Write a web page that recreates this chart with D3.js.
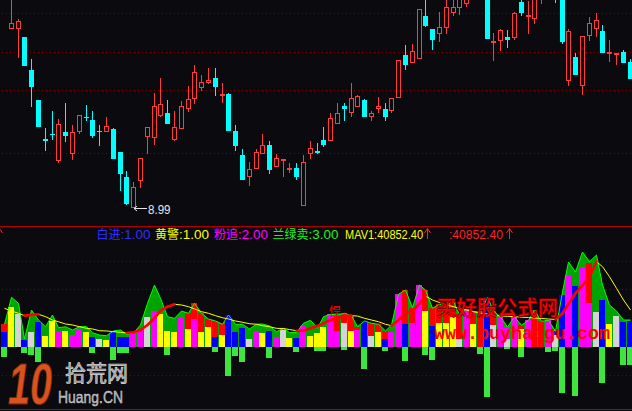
<!DOCTYPE html>
<html><head><meta charset="utf-8">
<script src="https://cdn.jsdelivr.net/npm/d3@7/dist/d3.min.js"></script>
<style>html,body{margin:0;padding:0;background:#0b0a0e;overflow:hidden}svg{display:block}</style>
</head><body>
<svg id="chart" width="632" height="411"></svg>
<script>
// ---------------- DATA ----------------
// K-line (price) series
const opens = [13.60,12.58,12.58,12.41,11.75,11.15,10.37,10.48,9.94,10.51,
10.06,10.51,10.82,10.75,10.54,10.52,10.57,10.11,9.61,9.00,
9.54,10.42,10.40,10.84,10.89,10.36,10.56,10.96,11.18,11.38,
11.50,11.59,11.22,11.27,10.53,10.05,9.62,9.78,10.06,10.25,
9.82,9.94,9.78,9.79,9.04,10.06,10.13,10.36,10.34,10.68,
11.03,10.90,11.02,11.15,10.82,10.96,10.97,10.94,11.20,12.05,
11.88,11.98,12.83,12.57,12.46,12.60,12.88,13.00,13.08,13.65,
13.55,13.45,12.32,12.32,12.41,12.40,13.11,12.82,12.78,13.35,
13.75,13.45,13.25,11.54,12.01,11.44,12.44,12.58,12.53,12.08,
12.06,12.11,11.91];
const highs = [13.70,13.25,12.77,12.41,11.98,11.15,10.59,10.93,10.77,11.09,
10.65,10.86,11.05,10.93,10.65,10.81,10.60,10.11,9.73,9.51,
9.99,10.61,11.29,11.59,11.15,10.93,11.13,11.43,11.85,11.65,
11.79,11.79,11.49,11.29,10.65,10.17,9.92,10.17,10.47,10.33,
10.07,9.98,9.89,9.89,10.05,10.33,10.29,10.61,10.89,11.09,
11.09,11.49,11.25,11.17,10.93,11.21,11.09,11.19,11.95,12.25,
12.27,12.97,13.21,12.57,12.91,13.21,13.19,13.35,13.47,13.75,
13.65,13.55,12.49,12.57,12.55,12.91,13.21,13.13,13.39,13.85,
13.85,13.55,13.31,12.57,12.09,12.44,12.81,12.89,12.65,12.35,
12.09,12.15,11.97];
const lows = [13.30,12.58,12.00,11.84,11.02,10.62,10.14,10.35,9.88,10.30,
9.95,10.48,10.72,10.40,10.22,10.52,9.96,9.34,9.06,8.99,
9.38,10.08,10.26,10.82,10.68,10.32,10.56,10.92,11.06,11.34,
11.48,11.24,11.10,10.54,10.14,9.56,9.44,9.78,10.06,9.68,
9.82,9.62,9.70,9.56,9.04,9.96,10.06,10.21,10.34,10.68,
10.72,10.82,11.02,10.80,10.74,10.90,10.74,10.90,11.20,11.75,
11.88,11.98,12.62,12.15,12.30,12.48,12.84,12.86,13.02,13.21,
13.14,12.37,11.93,12.13,12.20,12.36,12.84,12.46,12.68,13.08,
13.35,13.10,12.28,11.44,11.66,11.26,12.34,12.42,12.10,11.91,
11.85,11.88,11.58];
const closes = [13.35,12.69,12.72,11.84,11.40,10.62,10.34,10.45,10.68,10.44,
10.52,10.85,10.79,10.44,10.51,10.64,9.96,9.68,9.08,9.41,
9.99,10.61,11.03,11.07,10.68,10.61,11.03,11.17,11.71,11.51,
11.56,11.40,11.28,10.54,10.22,9.56,9.78,10.12,10.26,9.76,
10.00,9.98,9.79,9.62,9.92,10.19,10.10,10.25,10.79,10.89,
10.98,11.19,11.23,10.81,10.89,11.03,10.82,11.19,11.95,11.85,
12.13,12.97,12.63,12.35,12.61,13.01,13.01,13.25,13.39,13.35,
13.27,12.37,12.34,12.55,12.36,12.88,12.90,12.86,13.31,13.75,
13.45,13.25,12.30,12.54,11.66,12.44,12.70,12.74,12.10,12.11,
12.09,11.88,11.58];

// Indicator panel (values in thousands)
const lowVal = [16.2,43.8,36.1,7.7,16.9,27.6,12.5,29.0,17.7,17.7,
13.2,19.5,16.9,11.4,8.8,7.7,16.9,11.4,11.4,15.1,
18.8,33.5,40.1,36.4,17.7,16.9,32.8,19.9,30.9,16.2,
22.4,11.4,13.2,35.3,16.2,20.6,8.8,17.7,15.1,17.7,
11.4,18.8,10.3,10.3,23.2,12.5,15.1,22.4,36.1,17.7,
26.2,17.7,18.8,28.7,12.5,16.2,8.8,16.2,58.2,25.1,
26.8,68.4,39.7,23.5,26.5,26.5,33.1,8.5,42.3,25.1,
38.6,54.9,24.6,33.1,9.2,33.1,20.2,29.5,40.8,28.4,
29.5,12.9,57.4,80.0,67.3,87.8,48.2,39.0,51.9,25.4,
34.2,27.3,28.7];
const lowColor = ['B','Y','W','B','W','B','Y','Y','M','Y',
'M','M','Y','B','W','Y','B','B','B','M',
'M','W','M','Y','Y','Y','M','Y','M','Y',
'Y','B','Y','B','B','B','W','M','Y','B',
'M','W','Y','B','M','Y','Y','Y','M','M',
'W','Y','M','B','W','Y','B','M','M','B',
'M','M','Y','B','Y','Y','Y','W','M','Y',
'R','B','W','M','W','M','Y','M','R','R',
'M','W','B','M','B','M','M','W','B','Y',
'W','B','B'];
const upVal = [25.1,0,0,0,0,0,0,0,0,0,
0,0,0,0,0,0,0,0,0,0,
0,0,0,0,0,0,0,37.2,48.2,37.2,
30.9,28.7,25.1,0,0,0,0,0,0,0,
0,0,0,0,0,0,0,0,0,35.3,
37.2,34.6,22.4,0,26.2,25.1,17.7,0,0,62.9,
43.4,0,62.9,42.7,47.1,46.4,49.7,36.1,0,39.0,
0,0,40.1,0,22.1,0,24.0,0,0,0,
0,17.3,0,0,0,0,92.4,0,0,0,
0,0,0];
const upColor = ['R','-','-','-','-','-','-','-','-','-',
'-','-','-','-','-','-','-','-','-','-',
'-','-','-','-','-','-','-','R','R','R',
'R','R','R','-','-','-','-','-','-','-',
'-','-','-','-','-','-','-','-','-','R',
'R','R','R','-','R','R','R','-','-','R',
'R','-','R','R','R','R','R','R','-','R',
'-','-','R','-','M','-','R','-','-','-',
'-','B','-','-','-','-','R','-','-','-',
'-','-','-'];
const greenVal = [25.1,54.9,48.2,8.8,40.8,29.8,22.4,35.3,21.3,22.4,
18.8,22.4,22.4,15.8,13.2,12.5,17.7,18.8,14.0,15.5,
24.3,48.2,68.4,53.8,33.5,31.7,39.7,37.2,48.2,37.2,
30.9,28.7,25.1,35.3,25.1,25.1,19.9,25.1,25.4,23.2,
16.9,20.6,15.8,16.2,26.2,29.5,20.6,33.5,36.1,35.3,
37.2,34.6,22.4,28.7,26.2,25.1,17.7,24.3,58.2,62.9,
43.4,68.4,62.9,42.7,47.1,46.4,49.7,36.1,42.3,39.0,
38.6,54.9,40.1,33.1,22.1,33.1,24.0,29.5,40.8,28.4,
29.5,17.3,60.7,93.8,82.8,104.9,94.2,101.6,68.4,46.4,
39.7,29.8,29.8];
const negVal = [-10.7,0,0,-6.3,-8.8,-16.2,0,0,0,0,
0,0,0,-6.3,0,0,-14.4,-6.3,-6.3,0,
0,0,0,0,-8.8,0,0,0,0,0,
0,-5.5,0,-32.0,-9.9,-16.6,0,0,0,-12.1,
0,0,0,-5.5,0,0,-4.4,-4.7,0,0,
-3.6,0,0,-24.6,0,0,-4.7,0,0,-15.8,
0,0,-9.2,-14.7,0,0,0,0,0,0,
-7.4,-55.2,0,0,-2.2,0,-11.0,0,0,0,
-5.5,-4.7,-50.8,0,-54.1,0,0,0,-39.7,0,
0,-19.5,-20.2];
const mavVal = [42.7,39.7,37.2,34.6,35.3,36.1,33.5,29.8,27.9,25.4,
24.3,22.4,20.6,19.9,18.0,17.7,16.9,16.2,15.5,16.2,
18.8,24.3,31.7,40.1,44.5,47.1,46.4,44.5,42.0,39.0,
37.2,34.6,32.3,30.9,28.7,27.3,25.7,25.1,23.5,22.4,
20.6,20.4,19.3,18.0,18.2,20.6,23.2,26.2,29.8,32.0,
34.2,34.6,34.2,31.7,29.8,27.9,25.1,23.5,29.8,37.2,
39.7,48.2,56.3,51.9,49.1,46.4,44.5,42.7,40.8,39.0,
37.5,36.4,35.3,34.2,33.9,33.5,32.9,32.6,32.0,31.5,
30.9,30.4,37.2,47.5,59.3,68.4,77.6,94.2,88.7,77.6,
64.8,51.9,40.8524];

const gridTop = [12.88, 12.12, 11.36, 10.10];
const gridBot = [94.4, 63.5, -30.4];
const legendNames = ['白进','黄警','粉追','兰绿卖'];
const legendValues = [1.00, 1.00, 2.00, 3.00];

// ---------------- DRAW ----------------
const W = 632, H = 411, N = opens.length;
const bg = '#0b0a0e';
const svg = d3.select('#chart');
svg.append('rect').attr('width', W).attr('height', H).attr('fill', bg);
const defs = svg.append('defs');
defs.append('clipPath').attr('id','clipTop').append('rect').attr('x',0).attr('y',0).attr('width',W).attr('height',225);

const x = d3.scaleBand().domain(d3.range(N)).range([1, 1 + N * 6.8]).padding(0);
const col = i => Math.floor(x(i) + x.bandwidth() / 2);
const yT = d3.scaleLinear().domain([8.99, 13.15]).range([208, 0]);
const yB = d3.scaleLinear().domain([0, 110.4]).range([347, 247]);

const gridColor = '#800000';
svg.append('g').attr('shape-rendering','crispEdges').selectAll('line').data(gridTop).join('line')
  .attr('x1', 2).attr('x2', W)
  .attr('y1', d => Math.round(yT(d)) + 0.5).attr('y2', d => Math.round(yT(d)) + 0.5)
  .attr('stroke', gridColor).attr('stroke-dasharray', '1,3');
svg.append('g').attr('shape-rendering','crispEdges').selectAll('line').data(gridBot).join('line')
  .attr('x1', 2).attr('x2', W)
  .attr('y1', d => Math.round(yB(d)) + 0.5).attr('y2', d => Math.round(yB(d)) + 0.5)
  .attr('stroke', gridColor).attr('stroke-dasharray', '1,3');

// candles
const UP = '#ff3b3b', DN = '#00ffff';
const gC = svg.append('g').attr('clip-path', 'url(#clipTop)').attr('shape-rendering','crispEdges');
d3.range(N).forEach(i => {
  const o = opens[i], c = closes[i], h = highs[i], l = lows[i];
  const cx = col(i);
  const up = c >= o;
  const color = up ? UP : DN;
  gC.append('line').attr('x1', cx + 0.5).attr('x2', cx + 0.5)
    .attr('y1', Math.round(yT(h))).attr('y2', Math.round(yT(l)))
    .attr('stroke', color);
  const yTop = Math.round(yT(Math.max(o, c))), yBot = Math.round(yT(Math.min(o, c)));
  if (up && yBot - yTop >= 3) {
    gC.append('rect').attr('x', cx - 1.5).attr('y', yTop + 0.5).attr('width', 4)
      .attr('height', yBot - yTop - 1).attr('fill', bg).attr('stroke', color);
  } else {
    gC.append('rect').attr('x', cx - 2).attr('y', yTop).attr('width', 5)
      .attr('height', Math.max(up ? 2 : 1, yBot - yTop)).attr('fill', color);
  }
});

// lowest price marker
const lowIdx = d3.minIndex(lows);
const lx = col(lowIdx) + 1, ly = Math.round(yT(lows[lowIdx])) + 0.5;
svg.append('path').attr('d', `M${lx},${ly}H${lx + 13}M${lx},${ly}l3,-2.5M${lx},${ly}l3,2.5`)
  .attr('stroke', '#e8e8e8').attr('fill', 'none');
svg.append('text').attr('x', lx + 14).attr('y', ly + 5.5)
  .attr('font-family', 'Liberation Sans, Arial, sans-serif').attr('font-size', 13)
  .attr('fill', '#e8e8e8').attr('textLength', 22.5).attr('lengthAdjust', 'spacingAndGlyphs')
  .text(lows[lowIdx].toFixed(2));

// dividers
svg.append('line').attr('x1', 0).attr('x2', W).attr('y1', 226.5).attr('y2', 226.5).attr('stroke', '#b00000');
svg.append('line').attr('x1', 0).attr('x2', W).attr('y1', 409.5).attr('y2', 409.5).attr('stroke', '#b00000');

// indicator panel
const colorMap = { B: '#0000ff', Y: '#ffff00', M: '#ff00ff', W: '#d4d4d4', R: '#ff0000' };
const gB = svg.append('g');
const area = d3.area().x((d, i) => col(i) + 0.5).y0(yB(0)).y1(d => yB(d));
gB.append('path').datum(greenVal).attr('d', area).attr('fill', '#00a400');
const base = Math.round(yB(0));
const gBars = gB.append('g').attr('shape-rendering','crispEdges');
d3.range(N).forEach(i => {
  const cx = col(i);
  const yl = Math.round(yB(lowVal[i]));
  gBars.append('rect').attr('x', cx - 3).attr('y', yl).attr('width', 6).attr('height', base - yl)
    .attr('fill', colorMap[lowColor[i]]);
  if (upVal[i] > 0) {
    const yu = Math.round(yB(upVal[i]));
    gBars.append('rect').attr('x', cx - 3).attr('y', yu).attr('width', 6).attr('height', yl - yu)
      .attr('fill', colorMap[upColor[i]]);
  }
  if (negVal[i] < 0) {
    const yn = Math.round(yB(negVal[i]));
    gBars.append('rect').attr('x', cx - 3).attr('y', base).attr('width', 6).attr('height', yn - base)
      .attr('fill', '#3ce63c');
  }
});
const line = d3.line().x((d, i) => col(i) + 0.5).y(d => yB(d));
gB.append('path').datum(greenVal).attr('d', line).attr('fill', 'none').attr('stroke', '#00ff00').attr('stroke-width', 1);
gB.append('path').datum(mavVal).attr('d', line).attr('fill', 'none').attr('stroke', '#ffff00').attr('stroke-width', 1);
d3.range(N - 1).forEach(i => {
  if (mavVal[i + 1] > mavVal[i]) {
    gB.append('line').attr('x1', col(i) + 0.5).attr('y1', yB(mavVal[i]))
      .attr('x2', col(i + 1) + 0.5).attr('y2', yB(mavVal[i + 1]))
      .attr('stroke', '#ff0000').attr('stroke-width', 2.6).attr('stroke-linecap', 'round');
  }
});

// legend
const cjkFont = "'Noto Sans CJK SC', sans-serif";
const asciiFont = "'Liberation Sans', Arial, sans-serif";
function cjk(xp, s, color) {
  svg.append('text').attr('x', xp).attr('y', 239).attr('font-family', cjkFont)
    .attr('font-size', 12).attr('fill', color).text(s);
}
function ascii(xp, s, color) {
  svg.append('text').attr('x', xp).attr('y', 239).attr('font-family', asciiFont)
    .attr('font-size', 12).attr('fill', color)
    .attr('textLength', s.length * 6).attr('lengthAdjust', 'spacingAndGlyphs').text(s);
}
function upArrow(xp, color) {
  svg.append('path').attr('d', `M${xp + 0.5},239V229M${xp - 2.5},233L${xp + 0.5},228.5L${xp + 3.5},233`)
    .attr('stroke', color).attr('fill', 'none');
}
const legendColors = ['#3030ff', '#ffff00', '#ff00ff', '#22ee22'];
const legendX = [96.5, 155, 214, 272.5];
legendNames.forEach((n, k) => {
  cjk(legendX[k], n, legendColors[k]);
  ascii(legendX[k] + n.length * 12, ':' + legendValues[k].toFixed(2), legendColors[k]);
});
const mavLast = (mavVal[N - 1] * 1000).toFixed(2);
ascii(345, 'MAV1:' + mavLast, '#ffff00');
upArrow(427, '#ff2020');
ascii(449, ':' + mavLast, '#ff2020');
upArrow(509, '#ff2020');
upArrow(-1, '#ff2020');

// overlays / watermarks
svg.append('text').attr('x', 329).attr('y', 316).attr('font-family', cjkFont).attr('font-size', 12)
  .attr('fill', '#ff0000').text('悍');
svg.append('text').attr('x', 436).attr('y', 315).attr('font-family', cjkFont).attr('font-size', 21)
  .attr('font-weight', 'bold').attr('fill', '#ff0000').attr('stroke', '#5a0000').attr('stroke-width', 0.6)
  .attr('textLength', 122).attr('lengthAdjust', 'spacingAndGlyphs').text('买好股公式网');
svg.append('text').attr('x', 434).attr('y', 339).attr('font-family', "'Liberation Mono', monospace").attr('font-size', 18)
  .attr('font-weight', 'bold').attr('fill', '#ff0000')
  .attr('textLength', 176).attr('lengthAdjust', 'spacingAndGlyphs').text('www.buyhaogu.com');

// logo
svg.append('text').attr('x', 8).attr('y', 404).attr('font-family', asciiFont).attr('font-size', 58)
  .attr('font-weight', 'bold').attr('font-style', 'italic').attr('fill', '#d9531e').attr('stroke', '#7a2400')
  .attr('stroke-width', 0.8).attr('textLength', 44).attr('lengthAdjust', 'spacingAndGlyphs').text('10');
svg.append('text').attr('x', 65).attr('y', 381).attr('font-family', cjkFont).attr('font-size', 22)
  .attr('fill', '#8a8a8a').attr('stroke', '#d8d8d8').attr('stroke-width', 0.7)
  .attr('textLength', 63).attr('lengthAdjust', 'spacingAndGlyphs').text('拾荒网');
svg.append('text').attr('x', 58).attr('y', 403).attr('font-family', asciiFont).attr('font-size', 17)
  .attr('fill', '#a8a8a8').attr('stroke', '#dddddd').attr('stroke-width', 0.4)
  .attr('textLength', 65).attr('lengthAdjust', 'spacingAndGlyphs').text('Huang.CN');
</script>
</body></html>
